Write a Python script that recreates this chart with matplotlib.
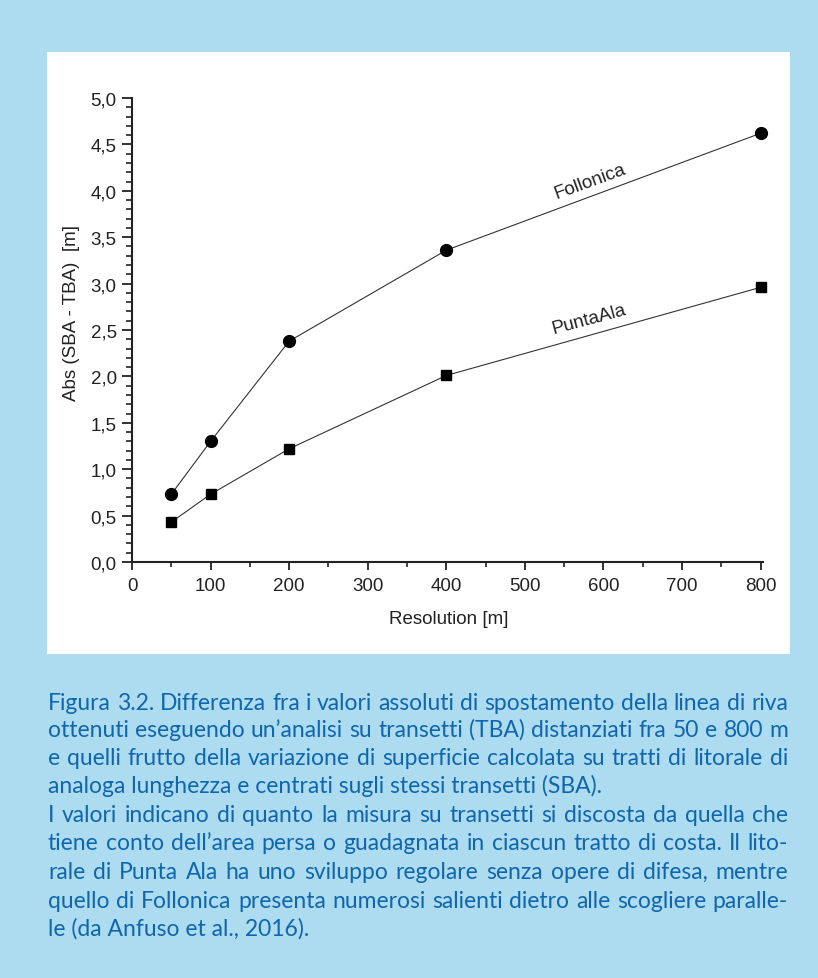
import matplotlib
matplotlib.use("Agg")
import matplotlib.pyplot as plt
from matplotlib.patches import Rectangle
from matplotlib.ticker import MultipleLocator, FuncFormatter

# Data
resolution = [50, 100, 200, 400, 800]
follonica = [0.73, 1.30, 2.38, 3.36, 4.62]
punta_ala = [0.43, 0.73, 1.22, 2.01, 2.96]
series_names = ["Follonica", "PuntaAla"]
x_label = "Resolution [m]"
y_label = "Abs (SBA - TBA)  [m]"

caption_paragraphs = [
    [
        "Figura 3.2. Differenza fra i valori assoluti di spostamento della linea di riva",
        "ottenuti eseguendo un\u2019analisi su transetti (TBA) distanziati fra 50 e 800 m",
        "e quelli frutto della variazione di superficie calcolata su tratti di litorale di",
        "analoga lunghezza e centrati sugli stessi transetti (SBA).",
    ],
    [
        "I valori indicano di quanto la misura su transetti si discosta da quella che",
        "tiene conto dell\u2019area persa o guadagnata in ciascun tratto di costa. Il lito-",
        "rale di Punta Ala ha uno sviluppo regolare senza opere di difesa, mentre",
        "quello di Follonica presenta numerosi salienti dietro alle scogliere paralle-",
        "le (da Anfuso et al., 2016).",
    ],
]

W, H = 818, 979
BG = "#ADDCF0"
CAPTION_COLOR = "#1066AC"
INK = "#222222"
FS = 13.5

plt.rcParams["font.family"] = ["Liberation Sans", "DejaVu Sans"]

fig = plt.figure(figsize=(W / 100, H / 100), dpi=100, facecolor=BG)

# White chart panel
fig.patches.append(Rectangle((47 / W, 1 - 655 / H), (790 - 47) / W, (655 - 53) / H,
                             transform=fig.transFigure, facecolor="white",
                             edgecolor="none", zorder=-5))

ax = fig.add_axes([132 / W, 1 - 563 / H, (763 - 132) / W, (563 - 99) / H])
ax.set_facecolor("none")
ax.set_zorder(2)
ax.set_xlim(0, 803)
ax.set_ylim(0, 5.0)

ax.plot(resolution, follonica, color="#333333", lw=0.8, marker="o", ms=8.5,
        mfc="black", mec="black", clip_on=False, zorder=3)
ax.plot(resolution, punta_ala, color="#333333", lw=0.8, marker="s", ms=7.2,
        mfc="black", mec="black", clip_on=False, zorder=3)

for side in ("top", "right"):
    ax.spines[side].set_visible(False)
for side in ("left", "bottom"):
    ax.spines[side].set_linewidth(1.5)
    ax.spines[side].set_color(INK)

ax.xaxis.set_major_locator(MultipleLocator(100))
ax.xaxis.set_minor_locator(MultipleLocator(50))
ax.yaxis.set_major_locator(MultipleLocator(0.5))
ax.yaxis.set_minor_locator(MultipleLocator(0.1))
ax.yaxis.set_major_formatter(FuncFormatter(lambda v, p: f"{v:.1f}".replace(".", ",")))
ax.tick_params(which="major", direction="out", length=6, width=1.3, color=INK, pad=5)
ax.tick_params(which="minor", direction="out", length=3.5, width=1.2, color=INK)
ax.tick_params(axis="y", which="major", length=7, pad=4)
ax.tick_params(axis="y", which="minor", length=4)
for lab in ax.get_xticklabels() + ax.get_yticklabels():
    lab.set_fontfamily("Liberation Sans")
    lab.set_fontsize(FS)
    lab.set_color(INK)

ax.set_xlabel(x_label, fontsize=FS, family="Liberation Sans", color=INK, va="center")
ax.xaxis.set_label_coords(0.502, (563 - 620) / 464)
ax.set_ylabel(y_label, fontsize=FS, family="Liberation Sans", color=INK, va="center")
ax.yaxis.set_label_coords((72 - 132) / 631, (563 - 313) / 464)

# Series labels along the last segment
ax.text(583, 4.11, series_names[0], rotation=20, fontsize=FS, family="Liberation Sans",
        color=INK, ha="center", va="center")
ax.text(582, 2.62, series_names[1], rotation=15, fontsize=FS, family="Liberation Sans",
        color=INK, ha="center", va="center")

# Justified caption
cap_font = dict(family="Lato", size=16.5, color=CAPTION_COLOR)
left_px, right_px = 48, 788
line_y = [710, 737, 765, 793, 822, 850, 879, 908, 936]

fig.canvas.draw()
renderer = fig.canvas.get_renderer()

i = 0
for para in caption_paragraphs:
    for j, line in enumerate(para):
        y = 1 - line_y[i] / H
        i += 1
        words = line.split(" ")
        last = j == len(para) - 1
        if last:
            fig.text(left_px / W, y, line, ha="left", va="baseline", **cap_font)
            continue
        arts = [fig.text(0, y, w, ha="left", va="baseline", **cap_font) for w in words]
        widths = [a.get_window_extent(renderer).width for a in arts]
        gap = (right_px - left_px - sum(widths)) / (len(words) - 1)
        x = left_px
        for a, w in zip(arts, widths):
            a.set_x(x / W)
            x += w + gap

fig.savefig("out.png", dpi=100, facecolor=BG)
